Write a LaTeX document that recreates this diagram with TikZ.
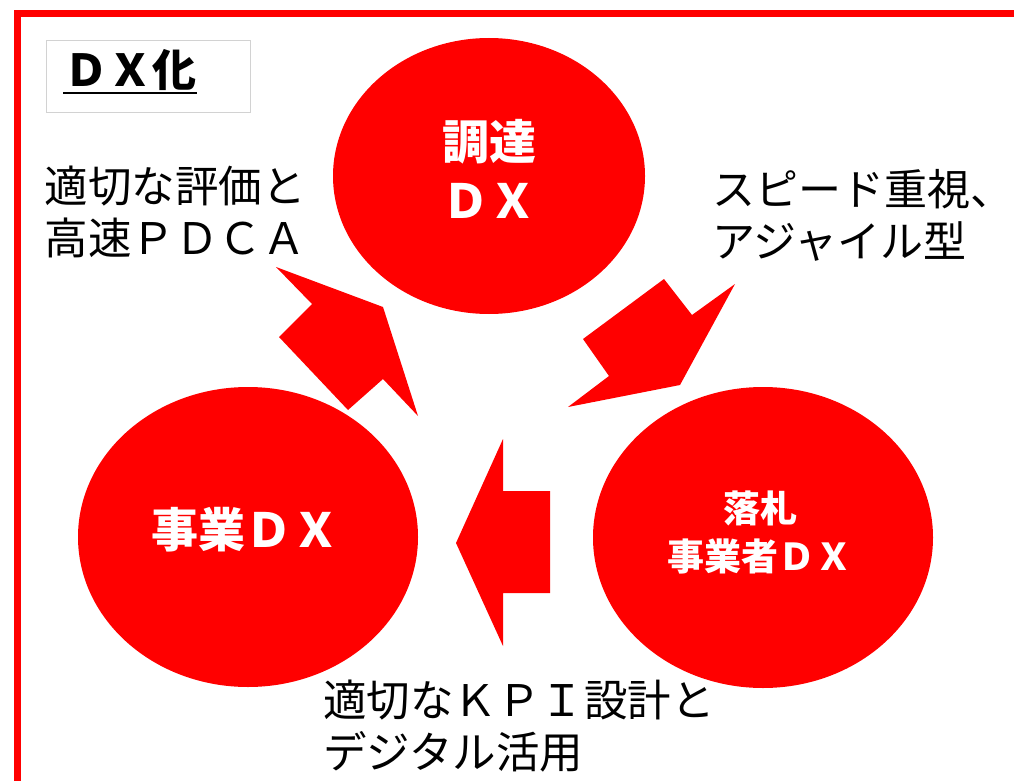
\documentclass[tikz,border=0pt]{standalone}
\usepackage{fontspec}
\newfontfamily\jp{Noto Sans CJK JP}
\usetikzlibrary{shapes.geometric}
\definecolor{frameRed}{RGB}{255,0,0}
\definecolor{boxGray}{RGB}{210,210,210}
\tikzset{
  bubble/.style={ellipse, fill=frameRed, draw=none, inner sep=0pt, text=white, align=center},
  bigarrow/.style={fill=frameRed, draw=none},
  lbl/.style={inner sep=0pt, align=left, text=black, font=\jp\fontsize{43.5}{52}\selectfont},
}
\begin{document}
\begin{tikzpicture}[x=1pt, y=-1pt]
\useasboundingbox (0,0) rectangle (1014,781);
\fill[white] (0,0) rectangle (1014,781);
\begin{scope}
\clip (0,0) rectangle (1014,781);
% outer frame
\draw[frameRed, line width=7pt] (17.8,13.8) rectangle (1040,810);
\end{scope}
% title box
\node[draw=boxGray, line width=0.8pt, fill=white, minimum width=204pt, minimum height=72pt, inner sep=0pt] (tbox) at (148.3,76.3) {};
\node[inner sep=0pt, font=\jp\bfseries\fontsize{44}{50}\selectfont] (title) at (130,70.5) {ＤＸ化};
\draw[line width=2pt] (63,93.3) -- (197,93.3);
% bubbles
\node[bubble, minimum width=312pt, minimum height=276pt] (chotatsu) at (489,176) {};
\node[bubble, minimum width=340pt, minimum height=300pt] (jigyo) at (248,537) {};
\node[bubble, minimum width=340pt, minimum height=301pt] (rakusatsu) at (763,537.5) {};
\node[inner sep=0pt, align=center, text=white, font=\jp\bfseries\fontsize{47}{59}\selectfont] (t1) at (489,169) {調達\\ＤＸ};
\node[inner sep=0pt, align=center, text=white, font=\jp\bfseries\fontsize{47}{59}\selectfont] (t2) at (245,530) {事業ＤＸ};
\node[inner sep=0pt, align=center, text=white, font=\jp\bfseries\fontsize{37}{48}\selectfont] (t3) at (760,532) {落札\\事業者ＤＸ};
% arrows
\fill[bigarrow] (276,267) -- (383,307) -- (418,416) -- (383,379) -- (348,410) -- (279,337) -- (312,304) -- cycle;
\fill[bigarrow] (735,284) -- (680,385) -- (568,407) -- (609,376) -- (583,339) -- (664,279) -- (692,315) -- cycle;
\fill[bigarrow] (456,543) -- (503,439) -- (503,491) -- (550,491) -- (550,593) -- (503,593) -- (503,646) -- cycle;
% labels
\node[lbl, anchor=west] (l1) at (44.5,212) {適切な評価と\\高速ＰＤＣＡ};
\node[lbl, anchor=west, font=\jp\fontsize{43}{52}\selectfont] (l2) at (712,215.5) {スピード重視、\\アジャイル型};
\node[lbl, anchor=west] (l3) at (323,726.5) {適切なＫＰＩ設計と\\デジタル活用};
\end{tikzpicture}
\end{document}
